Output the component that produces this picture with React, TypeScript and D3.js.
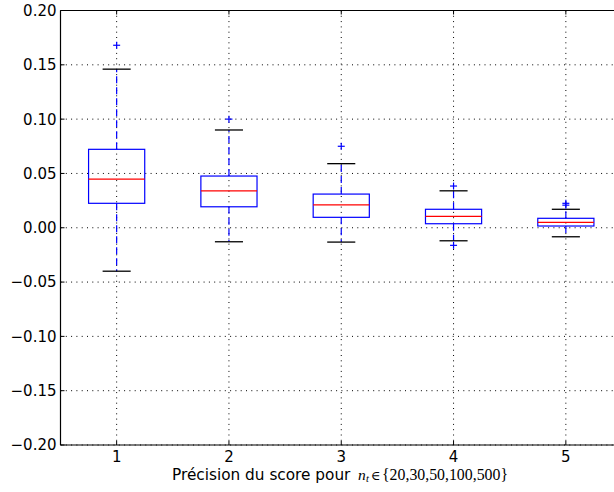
import React from "react";
import * as d3 from "d3";

const categories = [1, 2, 3, 4, 5];
const q1 = [0.0225, 0.0193, 0.0096, 0.0037, 0.0016];
const medians = [0.0448, 0.034, 0.021, 0.0105, 0.005];
const q3 = [0.0722, 0.0476, 0.031, 0.017, 0.0087];
const whiskerLow = [-0.04, -0.0129, -0.0132, -0.012, -0.0083];
const whiskerHigh = [0.146, 0.09, 0.059, 0.034, 0.017];
const outliers: number[][] = [[0.168], [0.1], [0.075], [0.0384, -0.0162], [0.0225, 0.0208]];
const yTicks = [-0.2, -0.15, -0.1, -0.05, 0, 0.05, 0.1, 0.15, 0.2];
const xLabelText = "Précision du score pour";
const xLabelSet = "{20,30,50,100,500}";

const W = 614;
const H = 492;
const left = 60.5;
const right = 622;
const top = 10.5;
const bottom = 445;

export default function App() {
  const x = d3.scaleLinear().domain([0.5, 5.5]).range([left, right]);
  const y = d3.scaleLinear().domain([-0.2, 0.2]).range([bottom, top]);
  const step = x(2) - x(1);
  const boxHalf = step * 0.25;
  const capHalf = step * 0.125;
  const font = "DejaVu Sans, sans-serif";
  const serif = "Liberation Serif, serif";
  const labelY = 479.5;

  return (
    <svg width={W} height={H} style={{ position: "absolute", left: 0, top: 0, background: "#fff" }}>
      <rect x={0} y={0} width={W} height={H} fill="#fff" />
      {/* grid */}
      {yTicks.map((t, i) => (
        <line key={"gy" + i} x1={left} x2={right} y1={y(t)} y2={y(t)} stroke="#000" strokeWidth={1} strokeDasharray="1,4.3" />
      ))}
      {categories.map((c) => (
        <line key={"gx" + c} x1={x(c)} x2={x(c)} y1={top} y2={bottom} stroke="#000" strokeWidth={1} strokeDasharray="1,4.3" />
      ))}
      {/* boxes */}
      {categories.map((c, i) => {
        const cx = x(c);
        return (
          <g key={"b" + c}>
            <line x1={cx} x2={cx} y1={y(q3[i])} y2={y(whiskerHigh[i])} stroke="#0000ff" strokeWidth={1.2} strokeDasharray="7,4" />
            <line x1={cx} x2={cx} y1={y(q1[i])} y2={y(whiskerLow[i])} stroke="#0000ff" strokeWidth={1.2} strokeDasharray="7,4" />
            <line x1={cx - capHalf} x2={cx + capHalf} y1={y(whiskerHigh[i])} y2={y(whiskerHigh[i])} stroke="#000" strokeWidth={1.3} />
            <line x1={cx - capHalf} x2={cx + capHalf} y1={y(whiskerLow[i])} y2={y(whiskerLow[i])} stroke="#000" strokeWidth={1.3} />
            <rect x={cx - boxHalf} y={y(q3[i])} width={boxHalf * 2} height={y(q1[i]) - y(q3[i])} fill="none" stroke="#0000ff" strokeWidth={1.2} />
            <line x1={cx - boxHalf} x2={cx + boxHalf} y1={y(medians[i])} y2={y(medians[i])} stroke="#ff0000" strokeWidth={1.2} />
            {outliers[i].map((o, j) => (
              <g key={j} stroke="#0000ff" strokeWidth={1.2}>
                <line x1={cx - 3.5} x2={cx + 3.5} y1={y(o)} y2={y(o)} />
                <line x1={cx} x2={cx} y1={y(o) - 3.5} y2={y(o) + 3.5} />
              </g>
            ))}
          </g>
        );
      })}
      {/* spines */}
      <line x1={left} x2={left} y1={top} y2={bottom} stroke="#000" strokeWidth={1.2} />
      <line x1={right} x2={right} y1={top} y2={bottom} stroke="#000" strokeWidth={1.2} />
      <line x1={left} x2={right} y1={top} y2={top} stroke="#000" strokeWidth={1.2} />
      <line x1={left} x2={right} y1={bottom} y2={bottom} stroke="#000" strokeWidth={1.2} />
      {/* ticks */}
      {yTicks.map((t, i) => (
        <g key={"ty" + i}>
          <line x1={left} x2={left + 4} y1={y(t)} y2={y(t)} stroke="#000" strokeWidth={1} />
          <line x1={right - 4} x2={right} y1={y(t)} y2={y(t)} stroke="#000" strokeWidth={1} />
          <text x={left - 4} y={y(t)} dy="0.36em" textAnchor="end" fontFamily={font} fontSize={15} fill="#000">
            {d3.format(".2f")(t)}
          </text>
        </g>
      ))}
      {categories.map((c) => (
        <g key={"tx" + c}>
          <line x1={x(c)} x2={x(c)} y1={bottom} y2={bottom - 4} stroke="#000" strokeWidth={1} />
          <line x1={x(c)} x2={x(c)} y1={top} y2={top + 4} stroke="#000" strokeWidth={1} />
          <text x={x(c)} y={bottom + 17} textAnchor="middle" fontFamily={font} fontSize={15} fill="#000">
            {c}
          </text>
        </g>
      ))}
      {/* x label */}
      <text x={172} y={labelY} fontFamily={font} fontSize={15.3} fill="#000">{xLabelText}</text>
      <text x={358} y={labelY} fontFamily={serif} fontStyle="italic" fontSize={15.5} fill="#000">n</text>
      <text x={366} y={labelY + 2.5} fontFamily={serif} fontStyle="italic" fontSize={10.5} fill="#000">t</text>
      <text x={371} y={labelY} fontFamily="DejaVu Serif, serif" fontSize={13} fill="#000">∈</text>
      <text x={382} y={labelY + 0.5} fontFamily={serif} fontSize={16} fill="#000" textLength={126} lengthAdjust="spacingAndGlyphs">{xLabelSet}</text>
    </svg>
  );
}
